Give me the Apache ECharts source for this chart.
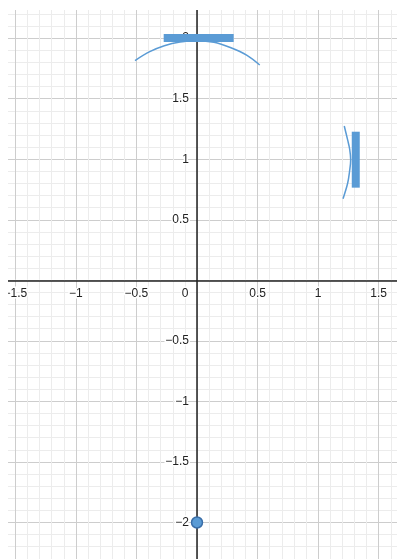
<!DOCTYPE html>
<html>
<head>
<meta charset="utf-8">
<script src="https://cdn.jsdelivr.net/npm/echarts@6/dist/echarts.min.js"></script>
<style>
  html, body { margin: 0; padding: 0; background: #fff; }
  /* 画布区域：左上留白，右下贴边 */
  .frame { position: absolute; left: 8px; top: 10px; width: 389px; height: 549px; overflow: hidden; }
  #main { position: absolute; left: -8px; top: -10px; width: 397px; height: 559px; }
</style>
</head>
<body>
<div class="frame"><div id="main"></div></div>
<script>
// 上方弧线（读图取点）
const arcTop = [
  [-0.512, 1.815], [-0.39, 1.888], [-0.27, 1.937], [-0.14, 1.967],
  [0, 1.978], [0.14, 1.965], [0.275, 1.922], [0.413, 1.858], [0.518, 1.778]
]
// 右侧弧线
const arcRight = [
  [1.216, 1.274], [1.244, 1.159], [1.261, 1.082], [1.269, 0.993],
  [1.259, 0.894], [1.244, 0.801], [1.206, 0.674]
]
// 上方横条 / 右侧竖条
const barTop = [[-0.275, 2], [0.303, 2]]
const barRight = [[1.311, 0.765], [1.311, 1.227]]
// 底部点
const dots = [[0, -2]]

const blue = '#5a9bd5'

function fmt (v) {
  if (v === 0) return ''
  return (v < 0 ? '\u2212' : '') + Math.abs(v)
}

const labelStyle = {
  color: '#222',
  fontSize: 12,
  fontFamily: 'Liberation Sans, Arial, sans-serif',
  textBorderColor: '#fff',
  textBorderWidth: 3
}

function axisCommon (min, max) {
  return {
    type: 'value',
    min: min,
    max: max,
    interval: 0.5,
    axisLine: { onZero: false, lineStyle: { color: '#222', width: 1.5 } },
    axisTick: { show: false },
    splitLine: { show: true, lineStyle: { color: '#cdcdcd', width: 1 } },
    minorTick: { show: false, splitNumber: 5 },
    minorSplitLine: { show: true, lineStyle: { color: '#ececec', width: 1 } }
  }
}

const chart = echarts.init(document.getElementById('main'))
chart.setOption({
  animation: false,
  backgroundColor: '#fff',
  grid: {
    left: -45.2, right: -42.2, top: -22.45, bottom: -24.05,
    containLabel: false, outerBoundsMode: 'none'
  },
  xAxis: Object.assign(axisCommon(-2, 2), {
    position: 'bottom',
    offset: -302.75,
    axisLabel: Object.assign({}, labelStyle, {
      margin: 7,
      formatter: function (v) { return v === 0 ? '{z|0}' : fmt(v) },
      rich: { z: Object.assign({}, labelStyle, { padding: [0, 24, 0, 0] }) }
    })
  }),
  yAxis: Object.assign(axisCommon(-2.5, 2.5), {
    position: 'left',
    offset: -242.2,
    axisLabel: Object.assign({}, labelStyle, { margin: 8, formatter: fmt })
  }),
  series: [
    { type: 'line', data: arcTop, smooth: 0.35, showSymbol: false, lineStyle: { color: blue, width: 1.5 } },
    { type: 'line', data: arcRight, smooth: 0.35, showSymbol: false, lineStyle: { color: blue, width: 1.5 } },
    { type: 'line', data: barTop, showSymbol: false, lineStyle: { color: blue, width: 8, cap: 'butt' } },
    { type: 'line', data: barRight, showSymbol: false, lineStyle: { color: blue, width: 8, cap: 'butt' } },
    {
      type: 'scatter',
      data: dots,
      symbolSize: 11,
      itemStyle: { color: blue, borderColor: '#3a6ea8', borderWidth: 1.5, opacity: 1 }
    }
  ]
})
</script>
</body>
</html>
